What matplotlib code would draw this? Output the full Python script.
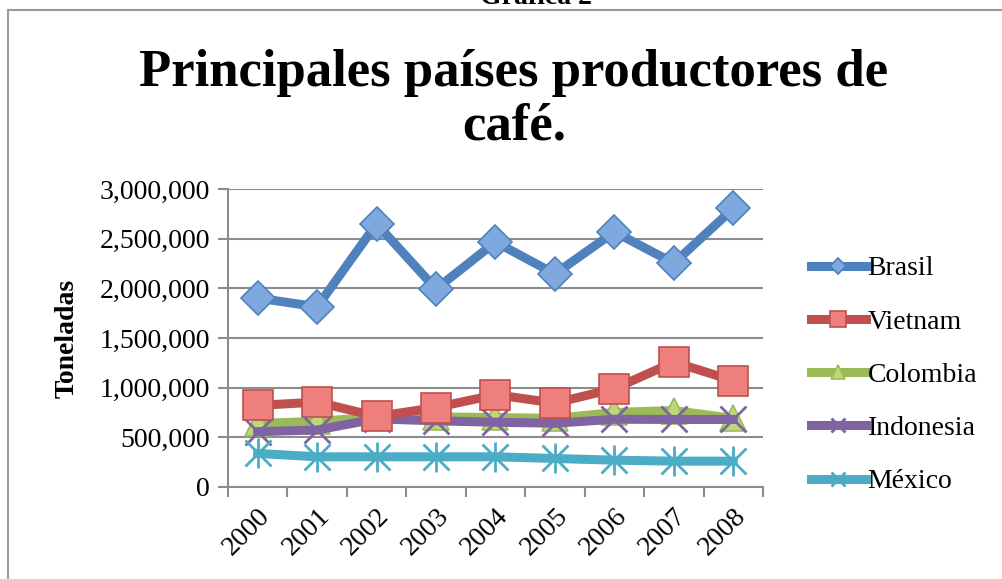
import numpy as np
import matplotlib
matplotlib.use("Agg")
import matplotlib.pyplot as plt
from matplotlib.lines import Line2D
from matplotlib.ticker import FuncFormatter, FixedLocator

# Data (toneladas)
years = ["2000", "2001", "2002", "2003", "2004", "2005", "2006", "2007", "2008"]
brasil = [1902000, 1814000, 2650000, 1993000, 2466000, 2145000, 2568000, 2253000, 2804000]
vietnam = [821000, 855000, 710000, 800000, 929000, 845000, 990000, 1257000, 1071000]
colombia = [640000, 660000, 705000, 705000, 700000, 690000, 750000, 770000, 690000]
indonesia = [557000, 574000, 686000, 666000, 652000, 642000, 682000, 680000, 680000]
mexico = [338000, 304000, 304000, 304000, 304000, 287000, 270000, 260000, 260000]

SERIF = ["Liberation Serif", "DejaVu Serif"]
plt.rcParams["font.family"] = SERIF

fig = plt.figure(figsize=(10.02, 5.79), dpi=100)
ax = fig.add_axes([0.2275, 0.1589, 0.534, 0.5147])

x = np.arange(len(years))
lw = 6.5

ax.plot(x, brasil, color="#4F81BD", lw=lw, marker="D", ms=17,
        mfc="#7FA8DE", mec="#4F81BD", mew=1.2, label="Brasil", zorder=5)
ax.plot(x, vietnam, color="#C0504D", lw=lw, marker="s", ms=22,
        mfc="#EE7F7C", mec="#C0504D", mew=1.2, label="Vietnam", zorder=4)
ax.plot(x, colombia, color="#9BBB59", lw=lw, marker="^", ms=19,
        mfc="#BCD97A", mec="#9BBB59", mew=1.2, label="Colombia", zorder=3)
ax.plot(x, indonesia, color="#8064A2", lw=lw, marker="x", ms=19,
        mec="#8064A2", mew=2.0, label="Indonesia", zorder=3)
ax.plot(x, mexico, color="#4BACC6", lw=lw, marker="x", ms=19,
        mec="#4BACC6", mew=2.0, label="México", zorder=3)
# vertical stroke of the asterisk marker
ax.plot(x, mexico, color="#4BACC6", lw=0, marker="|", ms=22,
        mec="#4BACC6", mew=2.0, zorder=3)

ax.set_xlim(-0.5, len(years) - 0.5)
ax.set_ylim(0, 3000000)
ax.set_yticks(np.arange(0, 3000001, 500000))
ax.yaxis.set_major_formatter(FuncFormatter(lambda v, p: f"{int(v):,}"))
ax.set_xticks(x)
ax.set_xticklabels(years, rotation=45, ha="right", va="top",
                   rotation_mode="anchor", fontsize=20)
ax.xaxis.set_minor_locator(FixedLocator(np.arange(-0.5, len(years), 1.0)))
ax.tick_params(axis="x", which="major", length=0, pad=12)
ax.tick_params(axis="x", which="minor", length=7, width=1.5, color="#8C8C8C",
               direction="out")
ax.tick_params(axis="y", length=7, width=1.5, color="#8C8C8C", labelsize=20, pad=6)

ax.grid(axis="y", color="#8C8C8C", lw=1.5)
ax.set_axisbelow(True)
for s in ["top", "right"]:
    ax.spines[s].set_visible(False)
for s in ["left", "bottom"]:
    ax.spines[s].set_color("#8C8C8C")
    ax.spines[s].set_linewidth(1.5)

ax.set_ylabel("Toneladas", fontsize=20, fontweight="bold", labelpad=14)

fig.text(0.513, 0.915, "Principales países productores de\ncafé.",
         ha="center", va="top", fontsize=38, fontweight="bold",
         linespacing=1.15)
fig.text(0.535, 0.993, "Gráfica 2", ha="center", va="baseline",
         fontsize=20, fontweight="bold")

leg = fig.legend(loc="center left", bbox_to_anchor=(0.784, 0.352),
                 frameon=False, fontsize=20, markerscale=0.5,
                 handlelength=2.0, handletextpad=0.05, labelspacing=1.0)

# chart frame (top and left edges visible)
fig.add_artist(Line2D([8 / 1002, 1], [1 - 10 / 579, 1 - 10 / 579],
                      transform=fig.transFigure, color="#9A9A9A", lw=1.5))
fig.add_artist(Line2D([8 / 1002, 8 / 1002], [0, 1 - 10 / 579],
                      transform=fig.transFigure, color="#9A9A9A", lw=1.5))

fig.savefig("out.png", dpi=100)
